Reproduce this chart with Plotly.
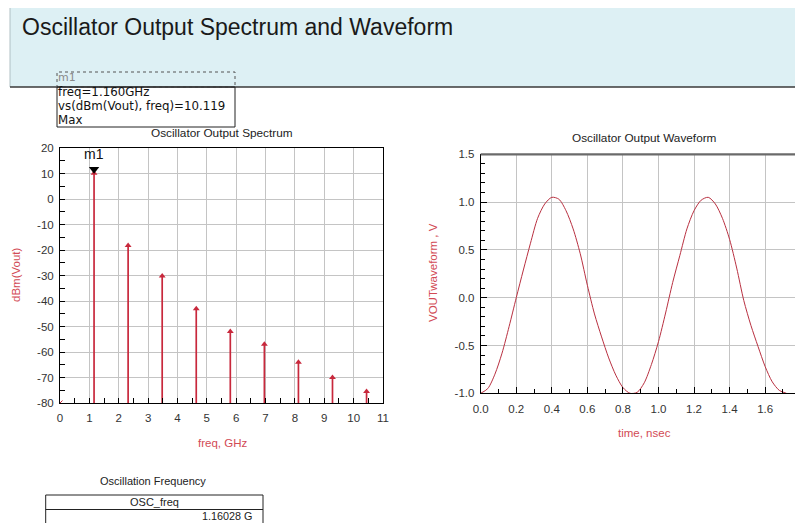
import plotly.graph_objects as go

# ---------------- data ----------------
harm_freq_ghz = [1.160, 2.320, 3.480, 4.640, 5.800, 6.960, 8.120, 9.280, 10.440]
harm_dbm = [10.119, -18.2, -30.2, -43.0, -52.0, -57.0, -64.0, -70.0, -75.5]
dc_freq = [0.0]
dc_dbm = [-80.0]
spec_floor = -80.0

m1_freq = 1.160
m1_value = 10.119

time_ns = [0.00, 0.04, 0.08, 0.12, 0.16, 0.20, 0.24, 0.28, 0.32, 0.36, 0.40, 0.44,
           0.48, 0.52, 0.56, 0.60, 0.64, 0.68, 0.72, 0.76, 0.80, 0.84, 0.88, 0.92,
           0.96, 1.00, 1.04, 1.08, 1.12, 1.16, 1.20, 1.24, 1.28, 1.32, 1.36, 1.40,
           1.44, 1.48, 1.52, 1.56, 1.60, 1.64, 1.68, 1.72]
vout_v = [-1.00, -0.95, -0.80, -0.58, -0.30, 0.00, 0.29, 0.57, 0.83, 0.98, 1.05, 1.03,
          0.91, 0.72, 0.46, 0.13, -0.17, -0.41, -0.63, -0.81, -0.94, -1.00, -0.99, -0.89,
          -0.70, -0.46, -0.16, 0.16, 0.44, 0.72, 0.91, 1.02, 1.05, 0.98, 0.83, 0.61,
          0.31, -0.03, -0.29, -0.51, -0.72, -0.88, -0.97, -1.00]

osc_freq_label = "OSC_freq"
osc_freq_value = "1.16028 G"

spec_xticks = list(range(0, 12))
spec_yticks = list(range(-80, 21, 10))
spec_yticktext = [str(v) for v in spec_yticks]
wave_xticks = [0.0, 0.2, 0.4, 0.6, 0.8, 1.0, 1.2, 1.4, 1.6]
wave_xticktext = ["%.1f" % v for v in wave_xticks]
wave_yticks = [-1.0, -0.5, 0.0, 0.5, 1.0, 1.5]
wave_yticktext = ["%.1f" % v for v in wave_yticks]

# ---------------- layout helpers ----------------
# page has the browser's default 8px body margin, so the figure is 16px smaller
OFF = 8
W, H = 803 - 2 * OFF, 531 - 2 * OFF
def px(x):
    return (x - OFF) / W
def py(y):
    return 1 - (y - OFF) / H

FONT = "Arial, 'Liberation Sans', sans-serif"
RED = "#c8283c"
AXRED = "#d24a55"
GRID = "#c4c4c4"
TICKC = "#333333"

fig = go.Figure()

# stems
sx, sy = [], []
for f, v in zip(harm_freq_ghz, harm_dbm):
    sx += [f, f, None]
    sy += [spec_floor, v, None]
fig.add_trace(go.Scatter(x=sx, y=sy, mode="lines", line=dict(color=RED, width=1.7),
                         hoverinfo="skip", showlegend=False, xaxis="x", yaxis="y"))
fig.add_trace(go.Scatter(x=harm_freq_ghz, y=harm_dbm, mode="markers",
                         marker=dict(symbol="triangle-up", size=6, color=RED),
                         showlegend=False, xaxis="x", yaxis="y"))
fig.add_trace(go.Scatter(x=dc_freq, y=dc_dbm, mode="markers",
                         marker=dict(symbol="x-thin", size=5, line=dict(color=RED, width=1)),
                         showlegend=False, xaxis="x", yaxis="y"))
fig.add_trace(go.Scatter(x=[m1_freq], y=[m1_value], mode="markers",
                         marker=dict(symbol="triangle-up", angle=180, standoff=4, size=9, color="black"),
                         showlegend=False, xaxis="x", yaxis="y"))

# waveform
fig.add_trace(go.Scatter(x=time_ns, y=vout_v, mode="lines",
                         line=dict(color="#b83040", width=1.0, shape="spline", smoothing=0.8),
                         showlegend=False, xaxis="x2", yaxis="y2"))

ax_common = dict(showline=True, linecolor="black", linewidth=1, ticks="inside", automargin=False,
                 tickcolor="black", tickfont=dict(family=FONT, size=11.5, color=TICKC),
                 gridcolor=GRID, gridwidth=1, zeroline=False, showgrid=True)
fig.update_layout(
    xaxis=dict(domain=[px(60), px(383)], range=[0, 11], tickvals=spec_xticks,
               ticklen=5, minor=dict(dtick=0.5, ticks="inside", ticklen=5, tickcolor="black", showgrid=False),
               mirror=True, anchor="y", ticklabelstandoff=4, **ax_common),
    yaxis=dict(domain=[py(403), py(148)], range=[-80, 20], tickvals=spec_yticks, ticktext=spec_yticktext,
               ticklen=5, minor=dict(dtick=5, ticks="inside", ticklen=5, tickcolor="black", showgrid=False),
               mirror=True, anchor="x", ticklabelstandoff=3, **ax_common),
    xaxis2=dict(domain=[px(480.7), 1.0], range=[0, (803 - 480.7) / 182.3], tickvals=wave_xticks,
                ticktext=wave_xticktext, ticklen=6,
                minor=dict(dtick=0.1, ticks="inside", ticklen=4, tickcolor="black", showgrid=False),
                anchor="y2", ticklabelstandoff=5, **ax_common),
    yaxis2=dict(domain=[py(393.3), py(154.3)], range=[-1.0, 1.5], tickvals=wave_yticks,
                ticktext=wave_yticktext, ticklen=6,
                minor=dict(dtick=0.1, ticks="inside", ticklen=4, tickcolor="black", showgrid=False),
                anchor="x2", ticklabelstandoff=3, **ax_common),
)

shapes = []
# banner
shapes.append(dict(type="rect", xref="paper", yref="paper", x0=px(10), x1=1.03, y0=py(87), y1=py(7),
                   fillcolor="#ddf0f4", line=dict(width=0), layer="below"))
shapes.append(dict(type="line", xref="paper", yref="paper", x0=px(10), x1=1.03, y0=py(7), y1=py(7),
                   line=dict(color="#8a9a9e", width=1.2)))
shapes.append(dict(type="line", xref="paper", yref="paper", x0=px(10), x1=px(10), y0=py(87), y1=py(7),
                   line=dict(color="#b0c0c4", width=1)))
shapes.append(dict(type="line", xref="paper", yref="paper", x0=px(10), x1=1.03, y0=py(87), y1=py(87),
                   line=dict(color="#3a3a3a", width=1.6)))
# marker readout box
shapes.append(dict(type="rect", xref="paper", yref="paper", x0=px(57), x1=px(235), y0=py(87), y1=py(72),
                   line=dict(color="#555555", width=1, dash="dot")))
shapes.append(dict(type="rect", xref="paper", yref="paper", x0=px(57), x1=px(235), y0=py(127), y1=py(87),
                   line=dict(color="#222222", width=1)))
# waveform top border
shapes.append(dict(type="line", xref="paper", yref="paper", x0=px(480.7), x1=1.03, y0=py(154.3), y1=py(154.3),
                   line=dict(color="#6a6a6a", width=2.2)))
# table (nudged up slightly so the value row stays inside the page)
shapes.append(dict(type="rect", xref="paper", yref="paper", x0=px(45.7), x1=px(263), y0=py(545), y1=py(495),
                   line=dict(color="#222222", width=1)))
shapes.append(dict(type="line", xref="paper", yref="paper", x0=px(45.7), x1=px(263), y0=py(509.5), y1=py(509.5),
                   line=dict(color="#222222", width=1)))
fig.update_layout(shapes=shapes)

ann = []
def text(x, y, s, size, color="#111111", xanchor="left", yanchor="middle", angle=0, family=FONT):
    ann.append(dict(x=px(x), y=py(y), xref="paper", yref="paper", text=s, showarrow=False,
                    xanchor=xanchor, yanchor=yanchor, textangle=angle, borderpad=0,
                    font=dict(family=family, size=size, color=color)))

BOXFONT = "'DejaVu Sans', sans-serif"
text(21, 27, "Oscillator Output Spectrum and Waveform", 23, "#1a1a1a")
text(57, 78, "m1", 11, "#8a8a8a", family=BOXFONT)
text(57, 92, "freq=1.160GHz", 11.8, "#111111", family=BOXFONT)
text(57, 106, "vs(dBm(Vout), freq)=10.119", 11.8, "#111111", family=BOXFONT)
text(57, 120, "Max", 11.8, "#111111", family=BOXFONT)
text(222, 133, "Oscillator Output Spectrum", 11.8, "#222222", xanchor="center")
text(644, 138, "Oscillator Output Waveform", 11.8, "#222222", xanchor="center")
text(222, 443, "freq, GHz", 11.5, AXRED, xanchor="center")
text(16, 275, "dBm(Vout)", 11.5, AXRED, xanchor="center", angle=-90)
text(644, 432.5, "time, nsec", 11.5, AXRED, xanchor="center")
text(433, 273, "VOUTwaveform , V", 11.5, AXRED, xanchor="center", angle=-90)
text(153, 481, "Oscillation Frequency", 11, "#222222", xanchor="center")
text(154, 502, osc_freq_label, 11, "#222222", xanchor="center")
text(253, 516, osc_freq_value, 10.8, "#222222", xanchor="right")

ann.append(dict(x=m1_freq, y=m1_value, xref="x", yref="y", text="m1", showarrow=False,
                xanchor="center", yanchor="bottom", yshift=10, borderpad=0,
                font=dict(family=FONT, size=14, color="#111111")))
fig.update_layout(annotations=ann)

fig.update_layout(width=W, height=H, margin=dict(l=0, r=0, t=0, b=0, autoexpand=False),
                  paper_bgcolor="white", plot_bgcolor="white", showlegend=False)

fig.write_html("out.html", config={"displayModeBar": False})
